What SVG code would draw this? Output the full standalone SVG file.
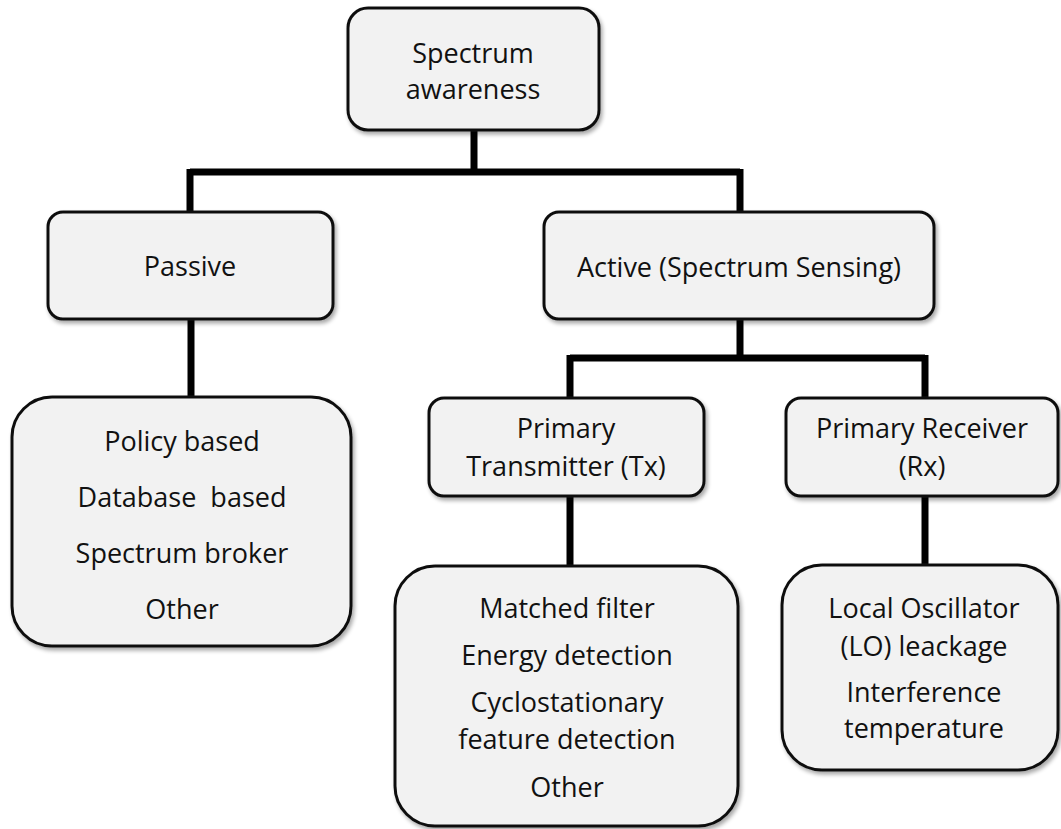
<svg xmlns="http://www.w3.org/2000/svg" width="1061" height="829" viewBox="0 0 1061 829">
  <defs>
    <filter id="shadow" x="-10%" y="-10%" width="125%" height="130%">
      <feGaussianBlur in="SourceAlpha" stdDeviation="2"/>
      <feOffset dx="2" dy="3" result="off"/>
      <feComponentTransfer><feFuncA type="linear" slope="0.35"/></feComponentTransfer>
      <feMerge><feMergeNode/><feMergeNode in="SourceGraphic"/></feMerge>
    </filter>
  </defs>
  <style>
    .box { fill: #f2f2f2; stroke: #111; stroke-width: 3; filter: url(#shadow); }
    .lbl { font-family: "Open Sans", "Liberation Sans", sans-serif; font-size: 27px; fill: #111; text-anchor: middle; }
    .wire { fill: none; stroke: #000; stroke-width: 7; stroke-linejoin: miter; }
  </style>
  <rect width="1061" height="829" fill="#fff"/>

  <!-- tree connectors -->
  <g id="connectors">
    <path class="wire" d="M474,130 V172 M190,172 H740 M190,169 V212 M740,169 V212"/>
    <path class="wire" d="M191,319 V397"/>
    <path class="wire" d="M740,319 V358 M570,358 H925 M570,355 V398 M925,355 V398"/>
    <path class="wire" d="M570,496 V566"/>
    <path class="wire" d="M925,496 V565"/>
  </g>

  <g id="spectrum-awareness">
    <rect class="box" x="348" y="8" width="251" height="122" rx="20"/>
    <text class="lbl" x="473" y="63">Spectrum</text>
    <text class="lbl" x="473" y="99">awareness</text>
  </g>

  <g id="passive">
    <rect class="box" x="48" y="212" width="285" height="107" rx="15"/>
    <text class="lbl" x="190" y="276">Passive</text>
  </g>

  <g id="active">
    <rect class="box" x="544" y="212" width="390" height="107" rx="15"/>
    <text class="lbl" x="739" y="277">Active (Spectrum Sensing)</text>
  </g>

  <g id="passive-methods">
    <rect class="box" x="12" y="397" width="339" height="249" rx="40"/>
    <text class="lbl" x="182" y="451">Policy based</text>
    <text class="lbl" x="182" y="507" xml:space="preserve">Database  based</text>
    <text class="lbl" x="182" y="563">Spectrum broker</text>
    <text class="lbl" x="182" y="619">Other</text>
  </g>

  <g id="primary-tx">
    <rect class="box" x="429" y="398" width="275" height="98" rx="15"/>
    <text class="lbl" x="566" y="438">Primary</text>
    <text class="lbl" x="566" y="476">Transmitter (Tx)</text>
  </g>

  <g id="primary-rx">
    <rect class="box" x="786" y="398" width="272" height="98" rx="15"/>
    <text class="lbl" x="922" y="438">Primary Receiver</text>
    <text class="lbl" x="922" y="476">(Rx)</text>
  </g>

  <g id="tx-methods">
    <rect class="box" x="395" y="566" width="343" height="260" rx="40"/>
    <text class="lbl" x="567" y="618">Matched filter</text>
    <text class="lbl" x="567" y="665">Energy detection</text>
    <text class="lbl" x="567" y="712">Cyclostationary</text>
    <text class="lbl" x="567" y="749">feature detection</text>
    <text class="lbl" x="567" y="797">Other</text>
  </g>

  <g id="rx-methods">
    <rect class="box" x="782" y="565" width="276" height="205" rx="40"/>
    <text class="lbl" x="924" y="618">Local Oscillator</text>
    <text class="lbl" x="924" y="656">(LO) leackage</text>
    <text class="lbl" x="924" y="702">Interference</text>
    <text class="lbl" x="924" y="738">temperature</text>
  </g>
</svg>
